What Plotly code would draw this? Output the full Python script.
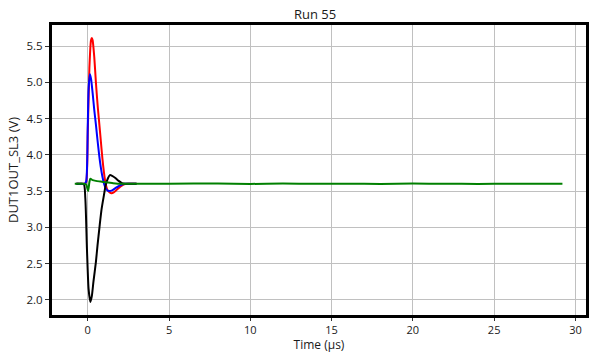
import plotly.graph_objects as go

# Time in microseconds, voltage in volts
red_t = [-0.7, -0.2, -0.1, 0.0, 0.1, 0.2, 0.25, 0.3, 0.4, 0.5, 0.6, 0.7, 0.8, 0.9, 1.0, 1.1, 1.2, 1.3, 1.45, 1.6, 1.8, 2.0, 2.2, 2.5, 3.0]
red_v = [3.60, 3.60, 3.62, 4.30, 5.20, 5.58, 5.61, 5.58, 5.35, 5.00, 4.70, 4.45, 4.20, 3.95, 3.75, 3.60, 3.52, 3.49, 3.47, 3.48, 3.52, 3.56, 3.59, 3.60, 3.60]

blue_t = [-0.7, -0.2, -0.1, 0.0, 0.05, 0.13, 0.2, 0.3, 0.4, 0.5, 0.6, 0.7, 0.8, 0.9, 1.0, 1.1, 1.2, 1.3, 1.5, 1.7, 2.0, 2.3, 2.7, 3.0]
blue_v = [3.60, 3.60, 3.63, 4.40, 4.90, 5.11, 5.05, 4.85, 4.62, 4.42, 4.20, 4.00, 3.83, 3.70, 3.60, 3.54, 3.51, 3.50, 3.51, 3.54, 3.58, 3.60, 3.60, 3.60]

black_t = [-0.7, -0.25, -0.15, -0.05, 0.05, 0.16, 0.25, 0.35, 0.5, 0.6, 0.72, 0.85, 1.0, 1.1, 1.25, 1.36, 1.5, 1.7, 1.9, 2.1, 2.3, 2.6, 3.0]
black_v = [3.60, 3.60, 3.40, 2.70, 2.15, 1.97, 2.05, 2.25, 2.52, 2.75, 3.00, 3.25, 3.45, 3.58, 3.68, 3.72, 3.71, 3.68, 3.64, 3.61, 3.60, 3.60, 3.60]

green_t = [-0.8, -0.3, -0.1, 0.02, 0.1, 0.16, 0.3, 0.5, 0.8, 1.1, 1.5, 2.0, 3.0, 5.0, 8.0, 10.0, 12.0, 14.0, 16.0, 18.0, 20.0, 22.0, 24.0, 26.0, 28.0, 29.2]
green_v = [3.60, 3.60, 3.59, 3.50, 3.62, 3.67, 3.65, 3.64, 3.63, 3.62, 3.61, 3.60, 3.60, 3.60, 3.605, 3.598, 3.603, 3.60, 3.602, 3.598, 3.603, 3.60, 3.598, 3.60, 3.602, 3.60]

x_ticks = [0, 5, 10, 15, 20, 25, 30]
y_ticks = [2.0, 2.5, 3.0, 3.5, 4.0, 4.5, 5.0, 5.5]

fig = go.Figure()
for t, v, c in [(red_t, red_v, "#ff0000"), (blue_t, blue_v, "#0000ff"),
                (black_t, black_v, "#000000"), (green_t, green_v, "#008000")]:
    fig.add_trace(go.Scatter(x=t, y=v, mode="lines", line=dict(color=c, width=2, shape="spline", smoothing=0.6),
                             showlegend=False, hoverinfo="skip"))

font_family = "Open Sans, DejaVu Sans, sans-serif"
fig.update_layout(
    width=589, height=353,
    margin=dict(l=52, r=3, t=25, b=38),
    paper_bgcolor="white", plot_bgcolor="white",
    font=dict(family=font_family, size=11.5, color="#1a1a1a"),
    title=dict(text="Run 55", x=0.535, xanchor="center", y=0.96, yanchor="middle",
               font=dict(size=13, color="#1a1a1a")),
)
fig.update_xaxes(
    range=[-2.2, 30.65], tickvals=x_ticks, ticks="outside", ticklen=3, tickcolor="#333",
    tickfont=dict(size=11),
    showgrid=True, gridcolor="#c0c0c0", gridwidth=1, zeroline=False,
    showline=True, linecolor="black", linewidth=3, mirror=True, automargin=False,
    title=dict(text="Time (µs)", font=dict(size=12), standoff=7),
)
fig.update_yaxes(
    range=[1.79, 5.79], tickvals=y_ticks, tickformat=".1f", ticks="outside", ticklen=4, tickcolor="#333",
    showgrid=True, gridcolor="#c0c0c0", gridwidth=1, zeroline=False,
    showline=True, linecolor="black", linewidth=3, mirror=True, automargin=False,
    title=dict(text="DUT1OUT_SL3 (V)", font=dict(size=13), standoff=5),
)

fig.write_html("out.html")
